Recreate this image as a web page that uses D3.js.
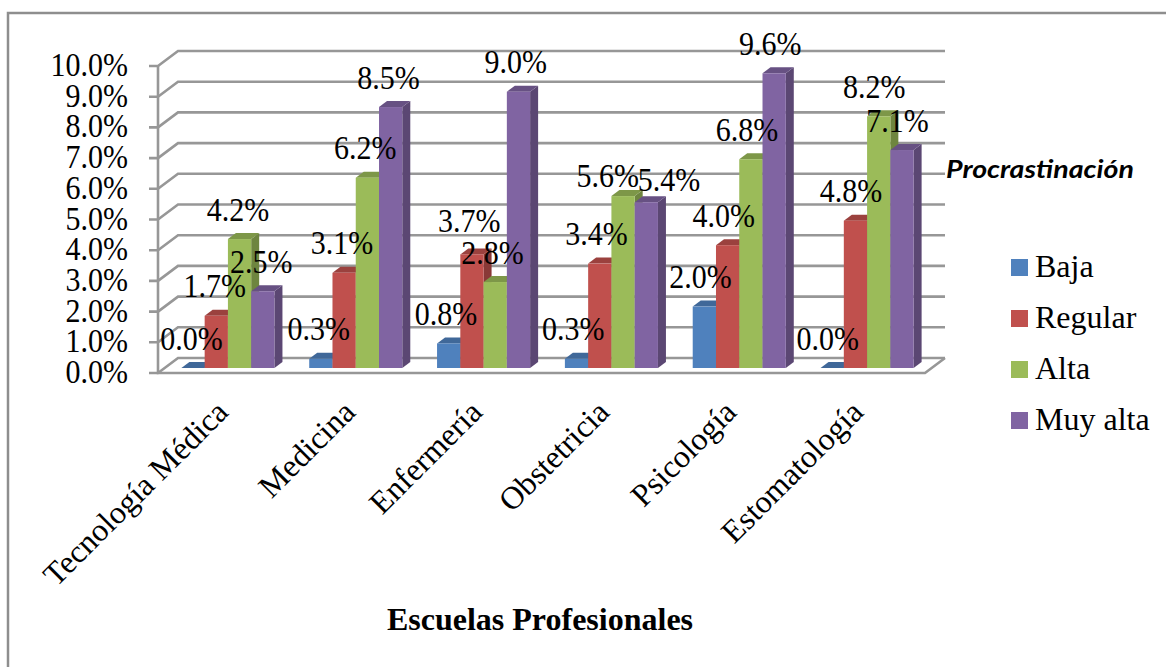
<!DOCTYPE html>
<html><head><meta charset="utf-8">
<script src="https://cdn.jsdelivr.net/npm/d3@7"></script>
<style>
html,body{margin:0;padding:0;background:#fff;overflow:hidden}
text{font-family:"Liberation Serif",serif;fill:#000}
</style></head><body><svg id="c" width="1166" height="667"></svg>
<script>
const categories=["Tecnología Médica","Medicina","Enfermería","Obstetricia","Psicología","Estomatología"];
const baja=[0.0,0.3,0.8,0.3,2.0,0.0];
const regular=[1.7,3.1,3.7,3.4,4.0,4.8];
const alta=[4.2,6.2,2.8,5.6,6.8,8.2];
const muyAlta=[2.5,8.5,9.0,5.4,9.6,7.1];
const seriesNames=["Baja","Regular","Alta","Muy alta"];
const seriesValues=[baja,regular,alta,muyAlta];
const colors=["#4F81BD","#C0504D","#9BBB59","#8064A2"];
const yTicks=[0,1,2,3,4,5,6,7,8,9,10];
const axisTitle="Escuelas Profesionales";
const legendTitle="Procrastinación";

const svg=d3.select("#c");
const FS=30, VS=1.1, gridC="#979797";
const wallDx=20, wallDy=15, barDx=8, barDy=6;
const x0=d3.scaleBand().domain(categories).range([158,925]).paddingInner(0.272).paddingOuter(0.136);
const x1=d3.scaleBand().domain(seriesNames).range([0,x0.bandwidth()]);
const y=d3.scaleLinear().domain([0,10]).range([373,66]);
const fmt=d3.format(".1f");
const shade=(c,k)=>d3.rgb(c).darker(k).formatHex();
// labels the original author dragged away from their default spot: [category, series, dx, dy]
const movedLabels=[[3,2,-12,9],[3,3,26,7],[2,1,0,-4]];

svg.append("path").attr("d","M1170,13H8V671").attr("fill","none").attr("stroke","#8e8e8e").attr("stroke-width",2.5);

const g=svg.append("g").attr("fill","none").attr("stroke",gridC).attr("stroke-width",2.6);
yTicks.forEach(t=>{
  g.append("path").attr("d",`M149,${y(t)}H158L${158+wallDx},${y(t)-wallDy}H${925+wallDx}`);
});
g.append("path").attr("d",`M158,${y(10)}V${y(0)}H925L${925+wallDx},${y(0)-wallDy}`);

svg.append("g").selectAll("text").data(yTicks).join("text")
  .attr("text-anchor","end").attr("font-size",FS)
  .attr("transform",d=>`translate(128,${y(d)+10}) scale(1,${VS})`)
  .text(d=>fmt(d)+"%");

const ox=6, oy=5;
const barsG=svg.append("g");
categories.forEach((c,i)=>{
  seriesNames.forEach((s,j)=>{
    const v=seriesValues[j][i];
    const L=x0(c)+x1(s)+ox, R=L+x1.bandwidth(), B=y(0)-oy, T=y(v)-oy;
    const col=colors[j];
    barsG.append("polygon").attr("fill",shade(col,0.95))
      .attr("points",[[R,B],[R+barDx,B-barDy],[R+barDx,T-barDy],[R,T]].join(" "));
    barsG.append("polygon").attr("fill",shade(col,0.6))
      .attr("points",[[L,T],[L+barDx,T-barDy],[R+barDx,T-barDy],[R,T]].join(" "));
    if(v>0) barsG.append("rect").attr("x",L).attr("y",T).attr("width",R-L).attr("height",B-T).attr("fill",col);
  });
});

const lab=svg.append("g");
categories.forEach((c,i)=>{
  seriesNames.forEach((s,j)=>{
    const v=seriesValues[j][i];
    const m=movedLabels.find(a=>a[0]===i&&a[1]===j)||[i,j,0,0];
    lab.append("text").attr("text-anchor","middle").attr("font-size",FS)
      .attr("transform",`translate(${x0(c)+x1(s)+x1.bandwidth()/2+ox-1.5-0.6*i+m[2]},${y(v)-oy-18.5+m[3]}) scale(1,${VS})`)
      .text(fmt(v)+"%");
  });
});

svg.append("g").selectAll("text").data(categories).join("text")
  .attr("text-anchor","end").attr("font-size",32)
  .attr("transform",(d,i)=>`translate(${x0(d)+x0.bandwidth()/2+8-0.8*i},414) rotate(-45)`)
  .text(d=>d);

svg.append("text").attr("x",540).attr("y",630).attr("text-anchor","middle")
  .attr("font-size",32).attr("font-weight","bold").text(axisTitle);

svg.append("text").attr("x",946).attr("y",178).attr("font-size",25)
  .attr("textLength",188).attr("lengthAdjust","spacingAndGlyphs")
  .attr("font-weight","bold").attr("font-style","italic").style("font-family","Lato,sans-serif").text(legendTitle);
const leg=svg.append("g");
seriesNames.forEach((s,j)=>{
  const ly=259+j*51;
  leg.append("rect").attr("x",1011).attr("y",ly).attr("width",17).attr("height",17).attr("fill",colors[j]);
  leg.append("text").attr("x",1035).attr("y",ly+18).attr("font-size",32).text(s);
});
</script></body></html>
